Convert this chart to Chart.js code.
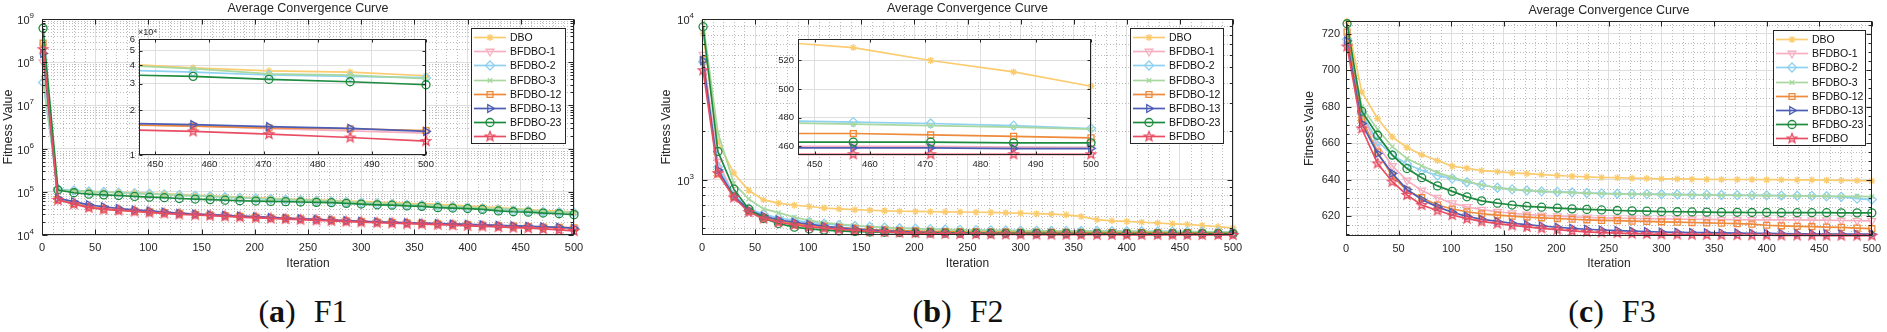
<!DOCTYPE html>
<html>
<head>
<meta charset="utf-8">
<script src="https://cdn.jsdelivr.net/npm/chart.js@4.4.1/dist/chart.umd.min.js"></script>
<style>
  body { margin: 0; background: #fff; width: 1887px; height: 332px; overflow: hidden; position: relative; }
  canvas { position: absolute; }
  .cap { position: absolute; top: 295px; font-family: "Liberation Serif", "Times New Roman", serif; font-size: 32px; line-height: 32px; color: #111; white-space: nowrap; transform: translateX(-50%); }
  .cap .f { margin-left: 18px; }
</style>
</head>
<body>
<div class="cap" style="left:303px">(<b>a</b>)<span class="f">F1</span></div>
<div class="cap" style="left:958px">(<b>b</b>)<span class="f">F2</span></div>
<div class="cap" style="left:1612px">(<b>c</b>)<span class="f">F3</span></div>
<script>
// ========== data ==========
const ITER = [1,15,30,44,58,72,87,101,115,129,144,158,172,186,201,215,229,243,258,272,286,300,315,329,343,357,372,386,400,414,429,443,457,471,486,500];
const NAMES = ["DBO", "BFDBO-1", "BFDBO-2", "BFDBO-3", "BFDBO-12", "BFDBO-13", "BFDBO-23", "BFDBO"];

// F1
const F1_DBO   = [2.6e8,1.12e5,1.07e5,1.03e5,1.0e5,9.8e4,9.5e4,9.3e4,9.0e4,8.7e4,8.4e4,8.1e4,7.8e4,7.5e4,7.3e4,7.1e4,6.9e4,6.7e4,6.5e4,6.3e4,6.1e4,6.0e4,5.8e4,5.6e4,5.4e4,5.3e4,5.1e4,4.9e4,4.7e4,4.5e4,4.3e4,4.1e4,3.85e4,3.67e4,3.6e4,3.4e4];
const F1_B1    = [1.0e8,6.4e4,5.5e4,4.6e4,4.1e4,3.8e4,3.6e4,3.45e4,3.3e4,3.15e4,3.0e4,2.9e4,2.8e4,2.7e4,2.6e4,2.5e4,2.42e4,2.34e4,2.26e4,2.19e4,2.12e4,2.05e4,1.99e4,1.94e4,1.89e4,1.85e4,1.81e4,1.77e4,1.73e4,1.69e4,1.64e4,1.6e4,1.57e4,1.5e4,1.45e4,1.4e4];
const F1_B2    = [3.4e7,1.15e5,1.08e5,1.02e5,9.9e4,9.6e4,9.3e4,9.0e4,8.7e4,8.4e4,8.1e4,7.8e4,7.5e4,7.2e4,7.0e4,6.8e4,6.6e4,6.4e4,6.2e4,6.0e4,5.8e4,5.6e4,5.4e4,5.2e4,5.0e4,4.9e4,4.7e4,4.5e4,4.3e4,4.1e4,3.9e4,3.72e4,3.6e4,3.44e4,3.37e4,3.3e4];
const F1_B3    = [4.3e7,1.1e5,1.06e5,1.01e5,9.8e4,9.5e4,9.2e4,8.9e4,8.6e4,8.3e4,8.0e4,7.8e4,7.5e4,7.3e4,7.1e4,6.9e4,6.7e4,6.5e4,6.3e4,6.1e4,5.9e4,5.7e4,5.5e4,5.3e4,5.1e4,5.0e4,4.8e4,4.6e4,4.4e4,4.2e4,4.1e4,4.0e4,3.8e4,3.5e4,3.43e4,3.25e4];
const F1_B12   = [2.75e8,6.6e4,5.3e4,4.5e4,4.0e4,3.8e4,3.6e4,3.45e4,3.3e4,3.15e4,3.0e4,2.9e4,2.8e4,2.7e4,2.6e4,2.5e4,2.42e4,2.35e4,2.27e4,2.2e4,2.13e4,2.06e4,2.0e4,1.95e4,1.9e4,1.86e4,1.82e4,1.78e4,1.74e4,1.7e4,1.65e4,1.6e4,1.56e4,1.52e4,1.5e4,1.46e4];
const F1_B13   = [1.6e8,7.1e4,5.9e4,5.0e4,4.5e4,4.1e4,3.8e4,3.6e4,3.4e4,3.2e4,3.05e4,2.95e4,2.85e4,2.75e4,2.65e4,2.55e4,2.45e4,2.38e4,2.3e4,2.22e4,2.15e4,2.08e4,2.02e4,1.97e4,1.92e4,1.88e4,1.84e4,1.8e4,1.76e4,1.72e4,1.67e4,1.63e4,1.6e4,1.55e4,1.51e4,1.44e4];
const F1_B23   = [6.1e8,1.1e5,9.5e4,8.8e4,8.5e4,8.2e4,7.8e4,7.5e4,7.3e4,7.0e4,6.8e4,6.6e4,6.4e4,6.2e4,6.1e4,6.0e4,5.9e4,5.8e4,5.7e4,5.6e4,5.4e4,5.2e4,5.0e4,4.9e4,4.7e4,4.6e4,4.3e4,4.2e4,4.1e4,3.9e4,3.6e4,3.45e4,3.37e4,3.22e4,3.1e4,2.96e4];
const F1_BFDBO = [2.0e8,6.5e4,5.2e4,4.3e4,3.9e4,3.7e4,3.5e4,3.3e4,3.15e4,3.0e4,2.9e4,2.8e4,2.7e4,2.6e4,2.5e4,2.42e4,2.34e4,2.26e4,2.19e4,2.12e4,2.05e4,1.98e4,1.92e4,1.87e4,1.82e4,1.78e4,1.73e4,1.68e4,1.63e4,1.58e4,1.53e4,1.48e4,1.44e4,1.38e4,1.31e4,1.24e4];

// F2
const F2_DBO   = [8100,1730,1100,858,751,716,695,683,668,660,652,647,642,638,636,634,633,631,629,627,624,620,616,612,606,592,566,556,551,545,539,533,529,520,512,502];
const F2_B1    = [6000,1300,800,650,590,558,537,522,510,500,492,486,481,477,474,471,469,467,466,465,464,463.5,463,462.5,462,462,461.5,461,461,460.5,460.5,460,460,460,459.5,459];
const F2_B2    = [5400,1200,810,665,610,580,560,545,533,524,517,511,505,500,497,494,491,489,487,485.5,484.5,483.5,482.5,482,481.5,481,480.5,480,479.5,479,478.5,478,477,476,474.5,472.5];
const F2_B3    = [9500,1960,950,760,660,625,585,560,542,530,520,512,506,501,497,494,491,489,487,485,484,483,482,481,480,479.5,479,478.5,478,477.5,477,476.5,475.5,474.5,473.5,472];
const F2_B12   = [5600,1090,790,640,585,555,535,522,512,504,497,491,487,483,480,478,476,475,474,473,472.5,472,471.5,471,471,470.5,470.5,470,470,469.5,469.5,469,469,468,467,466];
const F2_B13   = [5500,1150,790,650,595,565,545,530,515,503,494,487,481,477,473,470,468,466,465,464,463,462,461.5,461,460.5,460,460,459.5,459.5,459,459,459,459,459,458.5,458.5];
const F2_B23   = [8960,1500,875,658,575,535,508,495,487,481,477,474,472,470,469,468,467,466.5,466,465.5,465,465,464.5,464.5,464,464,464,463.5,463.5,463.5,463,463,463,463,462.5,462.5];
const F2_BFDBO = [4800,1100,776,630,575,545,525,510,500,492,485,479,474,470,467,464,462,460.5,459.5,458.5,458,457.5,457,456.5,456,456,455.5,455.5,455,455,455,454.5,454.5,454.5,454.5,454.5];

// F3
const F3_DBO   = [726.8,688,673.5,663.4,657.6,653.6,650.4,647.3,646.2,644.9,644.3,643.6,643.2,642.7,642.2,641.8,641.5,641.1,641.0,640.7,640.6,640.4,640.3,640.2,640.1,640.0,640.0,640.0,639.9,639.9,639.8,639.8,639.6,639.5,639.4,639.2];
const F3_B1    = [714,675,658.9,647.5,639.5,634,630,627,625,623.5,622.3,621.5,620.8,620.3,619.9,619.5,619.2,619.0,618.8,618.6,618.5,618.4,618.3,618.2,618.1,618.0,618.0,617.9,617.9,617.8,617.8,617.7,617.7,617.5,617.4,617.3];
const F3_B2    = [717,676,661,653.5,648.5,645,642.2,640.5,638.5,637,635.5,634.6,634,633.5,633.2,632.9,632.6,632.4,632.2,632.1,632.0,631.9,631.8,631.7,631.6,631.5,631.4,631.3,631.3,631.2,631.1,631.0,630.8,630.5,629.5,629.0];
const F3_B3    = [719,680,667.5,658,651.5,647.5,643.8,641.2,639,637,635.5,634.6,634,633.5,633.1,632.8,632.5,632.3,632.1,632.0,631.9,631.8,631.7,631.6,631.5,631.4,631.3,631.3,631.2,631.1,631.0,631.0,630.9,630.8,630.8,630.6];
const F3_B12   = [720.9,673,655,642,634,630,626,623.8,622.3,621.2,620.5,619.9,619.4,619.0,618.6,618.2,617.9,617.6,617.4,617.2,617.0,616.8,616.6,616.4,616.2,616.0,615.8,615.5,614.9,614.6,614.3,614.1,613.9,613.7,613.3,613.0];
const F3_B13   = [716,670.7,654.3,643.4,634.5,629,625,622,619.8,618.2,617,616,615.2,614.5,613.8,613.2,612.7,612.3,612.0,611.7,611.4,611.2,611.0,610.9,610.8,610.7,610.6,610.5,610.4,610.3,610.2,610.2,610.1,610.1,610.0,610.0];
const F3_B23   = [725.5,677.5,664.3,653.4,646,641,636.5,633.5,630.5,628.3,627,626,625.3,624.8,624.3,623.9,623.6,623.3,623.0,622.8,622.6,622.4,622.3,622.2,622.1,622.0,622.0,621.9,621.9,621.8,621.8,621.8,621.8,621.7,621.7,621.7];
const F3_BFDBO = [713,668,648.8,638.8,631.5,626,623,620.5,618.5,617,615.8,614.8,614.0,613.2,612.5,611.8,611.3,610.9,610.6,610.3,610.1,609.9,609.8,609.7,609.6,609.5,609.5,609.4,609.4,609.3,609.3,609.3,609.2,609.2,609.2,609.2];

// tick labels
const X_TICKS = [0,50,100,150,200,250,300,350,400,450,500];
const F1_Y_TICKS = [1e4,1e5,1e6,1e7,1e8,1e9];
const F2_Y_TICKS = [1e3,1e4];
const F3_Y_TICKS = [620,640,660,680,700,720];
const INSET_X_TICKS = [450,460,470,480,490,500];
const F1_INSET_Y_TICKS = [1e4,2e4,3e4,4e4,5e4,6e4];
const F2_INSET_Y_TICKS = [460,480,500,520];

// ========== styles ==========
const FONT = '"Liberation Sans", Arial, sans-serif';
const AX = "#262626";
const GRID = "#dedede";
const COLORS = ["#FBCB6E", "#F6AFC0", "#8ED1F0", "#A8D8A0", "#EE8A3A", "#4C5DB5", "#1D8B3F", "#E84D63"];
const ROTS = [0, 180, 0, 0, 0, 90, 0, 0];
const RADII = [3.5, 4.5, 4.5, 3.2, 4.2, 4.5, 4, 5];

function pentagram(color, r) {
  const s = Math.ceil(2 * r + 4);
  const c = document.createElement("canvas");
  c.width = s; c.height = s;
  const g = c.getContext("2d");
  g.strokeStyle = color; g.lineWidth = 1.3;
  g.beginPath();
  for (let k = 0; k < 10; k++) {
    const rr = k % 2 === 0 ? r : r * 0.42;
    const a = -Math.PI / 2 + k * Math.PI / 5;
    const px = s / 2 + rr * Math.cos(a), py = s / 2 + rr * Math.sin(a);
    if (k === 0) g.moveTo(px, py); else g.lineTo(px, py);
  }
  g.closePath(); g.stroke();
  return c;
}
const MARKERS = ["star", "triangle", "rectRot", "crossRot", "rect", "triangle", "circle", pentagram(COLORS[7], 5)];

function sup(n) {
  const m = {"0":"⁰","1":"¹","2":"²","3":"³","4":"⁴","5":"⁵","6":"⁶","7":"⁷","8":"⁸","9":"⁹","-":"⁻"};
  return String(n).split("").map(c => m[c]).join("");
}

// minor grid positions (tick positions, not data)
function logMinor(lo, hi) {
  const out = [];
  for (let d = Math.floor(Math.log10(lo)); d <= Math.ceil(Math.log10(hi)); d++) {
    for (let k = 2; k <= 9; k++) {
      const v = k * Math.pow(10, d);
      if (v > lo && v < hi) out.push(v);
    }
  }
  return out;
}
function linMinor(lo, hi, step, major) {
  const out = [];
  for (let v = Math.ceil(lo / step) * step; v < hi; v += step) {
    if (v % major !== 0) out.push(v);
  }
  return out;
}

// ========== plugin: MATLAB-like axes, legend, title ==========
const drawPt = (Chart.helpers && Chart.helpers.drawPoint) ? Chart.helpers.drawPoint : null;

const matlabPlugin = {
  id: "matlab",
  beforeDraw(chart, args, o) {
    if (!o.white) return;
    const a = chart.chartArea, ctx = chart.ctx;
    ctx.save();
    ctx.fillStyle = "#fff";
    ctx.fillRect(a.left, a.top, a.right - a.left, a.bottom - a.top);
    ctx.restore();
  },
  beforeDatasetsDraw(chart, args, o) {
    const a = chart.chartArea, ctx = chart.ctx;
    const xs = chart.scales.x, ys = chart.scales.y;
    ctx.save();
    ctx.strokeStyle = "#bcbcbc";
    ctx.lineWidth = 1;
    ctx.setLineDash([1, 2]);
    (o.xMinor || []).forEach(v => {
      const px = Math.round(xs.getPixelForValue(v)) + 0.5;
      ctx.beginPath(); ctx.moveTo(px, a.top); ctx.lineTo(px, a.bottom); ctx.stroke();
    });
    (o.yMinor || []).forEach(v => {
      const py = Math.round(ys.getPixelForValue(v)) + 0.5;
      ctx.beginPath(); ctx.moveTo(a.left, py); ctx.lineTo(a.right, py); ctx.stroke();
    });
    ctx.restore();
  },
  afterDatasetsDraw(chart, args, o) {
    const a = chart.chartArea, ctx = chart.ctx;
    const xs = chart.scales.x, ys = chart.scales.y;
    const L = Math.round(a.left) + 0.5, R = Math.round(a.right) - 0.5;
    const T = Math.round(a.top) + 0.5, B = Math.round(a.bottom) - 0.5;
    const tl = o.tickLen || 5;
    ctx.save();
    ctx.strokeStyle = AX;
    ctx.lineWidth = 1;
    ctx.beginPath();
    xs.ticks.forEach(t => {
      const px = Math.round(xs.getPixelForValue(t.value)) + 0.5;
      ctx.moveTo(px, B); ctx.lineTo(px, B - tl);
      ctx.moveTo(px, T); ctx.lineTo(px, T + tl);
    });
    ys.ticks.forEach(t => {
      const py = Math.round(ys.getPixelForValue(t.value)) + 0.5;
      ctx.moveTo(L, py); ctx.lineTo(L + tl, py);
      ctx.moveTo(R, py); ctx.lineTo(R - tl, py);
    });
    (o.yMinor || []).forEach(v => {
      const py = Math.round(ys.getPixelForValue(v)) + 0.5;
      ctx.moveTo(L, py); ctx.lineTo(L + tl * 0.55, py);
      ctx.moveTo(R, py); ctx.lineTo(R - tl * 0.55, py);
    });
    ctx.stroke();
    ctx.strokeRect(L, T, R - L, B - T);
    ctx.restore();
  },
  afterDraw(chart, args, o) {
    const a = chart.chartArea, ctx = chart.ctx;
    ctx.save();
    if (o.title) {
      ctx.fillStyle = AX;
      ctx.font = "12.5px " + FONT;
      ctx.textAlign = "center";
      ctx.textBaseline = "middle";
      ctx.fillText(o.title, (a.left + a.right) / 2, a.top - 10);
    }
    // log-axis labels as 10 with a raised exponent
    if (o.powerLabels) {
      const ys = chart.scales.y;
      ctx.fillStyle = AX;
      ctx.textBaseline = "alphabetic";
      ys.ticks.forEach(t => {
        const py = ys.getPixelForValue(t.value);
        const ex = String(Math.round(Math.log10(t.value)));
        ctx.font = "8px " + FONT;
        const ew = ctx.measureText(ex).width;
        const xr = a.left - 8;
        ctx.textAlign = "right";
        ctx.fillText(ex, xr, py - 1);
        ctx.font = "11px " + FONT;
        ctx.fillText("10", xr - ew, py + 5);
      });
    }
    if (o.exponent) {
      ctx.fillStyle = AX;
      ctx.font = "9px " + FONT;
      ctx.textAlign = "left";
      ctx.textBaseline = "middle";
      ctx.fillText(o.exponent, a.left - 1, a.top - 6);
    }
    if (o.legend) {
      const lg = o.legend;
      ctx.fillStyle = "#fff";
      ctx.fillRect(lg.x, lg.y, lg.w, lg.h);
      ctx.strokeStyle = AX;
      ctx.lineWidth = 1;
      ctx.strokeRect(lg.x + 0.5, lg.y + 0.5, lg.w, lg.h);
      chart.data.datasets.forEach((ds, i) => {
        const cy = Math.round(lg.y + 9 + i * 14.2) + 0.5;
        ctx.strokeStyle = ds.borderColor;
        ctx.lineWidth = ds.borderWidth;
        ctx.beginPath(); ctx.moveTo(lg.x + 3, cy); ctx.lineTo(lg.x + 35, cy); ctx.stroke();
        ctx.fillStyle = "rgba(0,0,0,0)";
        ctx.lineWidth = ds.pointBorderWidth;
        if (drawPt) {
          drawPt(ctx, {pointStyle: ds.pointStyle, rotation: ds.pointRotation, radius: ds.pointRadius, borderWidth: ds.pointBorderWidth}, lg.x + 19, cy);
        }
        ctx.fillStyle = "#111";
        ctx.font = "10.5px " + FONT;
        ctx.textAlign = "left";
        ctx.textBaseline = "middle";
        ctx.fillText(ds.label, lg.x + 39, cy + 0.5);
      });
    }
    ctx.restore();
  }
};
Chart.register(matlabPlugin);

// ========== chart builder ==========
function makeDatasets(series, clip) {
  return series.map((vals, i) => ({
    label: NAMES[i],
    data: ITER.map((x, k) => ({x: x, y: vals[k]})),
    borderColor: COLORS[i],
    backgroundColor: "rgba(0,0,0,0)",
    borderWidth: 1.7,
    pointStyle: MARKERS[i],
    pointRotation: ROTS[i],
    pointRadius: RADII[i],
    pointBorderWidth: 1.3,
    pointBorderColor: COLORS[i],
    pointBackgroundColor: "rgba(0,0,0,0)",
    tension: 0,
    order: series.length - i,
    clip: clip
  }));
}

function buildChart(box, plot, cfg) {
  const cv = document.createElement("canvas");
  cv.width = box.w; cv.height = box.h;
  cv.style.left = box.left + "px";
  cv.style.top = box.top + "px";
  document.body.appendChild(cv);

  const padTop = plot.t - box.top;
  const padRight = box.left + box.w - plot.r;
  const yWidth = plot.l - box.left;
  const xHeight = box.top + box.h - plot.b;
  const fs = cfg.inset ? 9.5 : 11;
  const legend = cfg.legend ? {x: cfg.legend.x - box.left, y: cfg.legend.y - box.top, w: cfg.legend.w, h: cfg.legend.h} : null;

  return new Chart(cv, {
    type: "line",
    data: { datasets: makeDatasets(cfg.series, cfg.clip) },
    options: {
      responsive: false,
      animation: false,
      events: [],
      layout: { padding: { left: 0, top: padTop, right: padRight, bottom: 0 } },
      plugins: {
        legend: { display: false },
        tooltip: { enabled: false },
        title: { display: false },
        matlab: {
          white: !!cfg.inset,
          xMinor: cfg.xMinor,
          yMinor: cfg.yMinor,
          tickLen: cfg.inset ? 3 : 5,
          title: cfg.title,
          exponent: cfg.exponent,
          powerLabels: !!cfg.powerLabels,
          legend: legend
        }
      },
      scales: {
        x: {
          type: "linear",
          min: cfg.xMin, max: cfg.xMax,
          afterBuildTicks: s => { s.ticks = cfg.xTicks.map(v => ({value: v})); },
          afterFit: s => { s.height = xHeight; },
          grid: { color: GRID, drawTicks: false, lineWidth: 1 },
          border: { display: false },
          ticks: { padding: cfg.inset ? 4 : 6, color: AX, font: {size: fs, family: FONT}, maxRotation: 0, autoSkip: false, callback: v => String(v) },
          title: cfg.inset ? { display: false } : { display: true, text: "Iteration", color: AX, font: {size: 12, family: FONT}, padding: {top: 0, bottom: 8.8} }
        },
        y: {
          type: cfg.yType,
          min: cfg.yMin, max: cfg.yMax,
          afterBuildTicks: s => { s.ticks = cfg.yTicks.map(v => ({value: v})); },
          afterFit: s => { s.width = yWidth; },
          grid: { color: GRID, drawTicks: false, lineWidth: 1 },
          border: { display: false },
          ticks: { padding: cfg.inset ? 4 : 6, color: AX, font: {size: fs, family: FONT}, autoSkip: false, callback: cfg.yLabel },
          title: cfg.inset ? { display: false } : { display: true, text: "Fitness Value", color: AX, font: {size: 12.5, family: FONT}, padding: {top: 1.5, bottom: 0} }
        }
      }
    }
  });
}

const MAIN_CLIP = 10;
const INSET_CLIP = { left: 0, top: 0, right: 8, bottom: 6 };
const TITLE = "Average Convergence Curve";
const noLabel = () => "";

// ========== panel (a) F1 ==========
buildChart({left: 0, top: 0, w: 590, h: 280}, {l: 42, t: 19, r: 574, b: 235}, {
  series: [F1_DBO, F1_B1, F1_B2, F1_B3, F1_B12, F1_B13, F1_B23, F1_BFDBO],
  xMin: 0, xMax: 500, xTicks: X_TICKS,
  yType: "logarithmic", yMin: 1e4, yMax: 1e9, yTicks: F1_Y_TICKS, yLabel: noLabel, powerLabels: true,
  xMinor: linMinor(0, 500, 10, 50), yMinor: logMinor(1e4, 1e9),
  title: TITLE, clip: MAIN_CLIP,
  legend: {x: 471, y: 28, w: 94, h: 115}
});
buildChart({left: 110, top: 25, w: 330, h: 150}, {l: 139, t: 39, r: 426, b: 155}, {
  inset: true,
  series: [F1_DBO, F1_B1, F1_B2, F1_B3, F1_B12, F1_B13, F1_B23, F1_BFDBO],
  xMin: 447, xMax: 500, xTicks: INSET_X_TICKS,
  yType: "logarithmic", yMin: 1e4, yMax: 6e4, yTicks: F1_INSET_Y_TICKS, yLabel: v => String(Math.round(v / 1e4)),
  exponent: "×10" + sup(4), clip: INSET_CLIP
});

// ========== panel (b) F2 ==========
buildChart({left: 658, top: 0, w: 600, h: 280}, {l: 702, t: 19, r: 1233, b: 235}, {
  series: [F2_DBO, F2_B1, F2_B2, F2_B3, F2_B12, F2_B13, F2_B23, F2_BFDBO],
  xMin: 0, xMax: 500, xTicks: X_TICKS,
  yType: "logarithmic", yMin: 454, yMax: 1e4, yTicks: F2_Y_TICKS, yLabel: noLabel, powerLabels: true,
  xMinor: linMinor(0, 500, 10, 50), yMinor: logMinor(454, 1e4),
  title: TITLE, clip: MAIN_CLIP,
  legend: {x: 1130, y: 28, w: 93, h: 115}
});
buildChart({left: 760, top: 25, w: 345, h: 150}, {l: 798, t: 39, r: 1091, b: 155}, {
  inset: true,
  series: [F2_DBO, F2_B1, F2_B2, F2_B3, F2_B12, F2_B13, F2_B23, F2_BFDBO],
  xMin: 447, xMax: 500, xTicks: INSET_X_TICKS,
  yType: "linear", yMin: 454, yMax: 535, yTicks: F2_INSET_Y_TICKS, yLabel: v => String(v),
  clip: INSET_CLIP
});

// ========== panel (c) F3 ==========
buildChart({left: 1301, top: 0, w: 586, h: 280}, {l: 1346, t: 21, r: 1875, b: 236}, {
  series: [F3_DBO, F3_B1, F3_B2, F3_B3, F3_B12, F3_B13, F3_B23, F3_BFDBO],
  xMin: 0, xMax: 500, xTicks: X_TICKS,
  yType: "linear", yMin: 609, yMax: 727, yTicks: F3_Y_TICKS, yLabel: v => String(v),
  xMinor: linMinor(0, 500, 10, 50), yMinor: linMinor(609, 727, 5, 20),
  title: TITLE, clip: MAIN_CLIP,
  legend: {x: 1773, y: 30, w: 92, h: 115}
});
</script>
</body>
</html>
